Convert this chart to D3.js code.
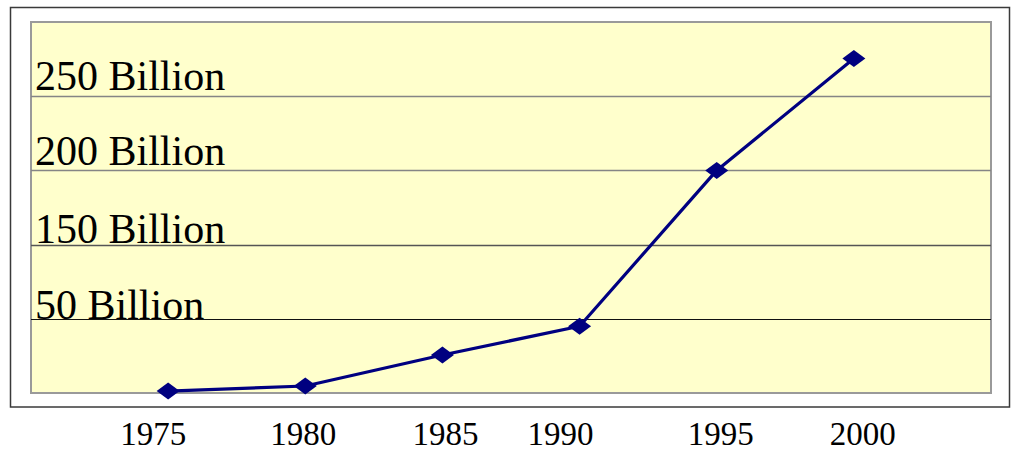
<!DOCTYPE html>
<html>
<head>
<meta charset="utf-8">
<script src="https://cdn.jsdelivr.net/npm/d3@7"></script>
<style>
  html, body { margin: 0; padding: 0; background: #ffffff; }
  svg { display: block; }
</style>
</head>
<body>
<svg id="chart" width="1023" height="475"></svg>
<script>
// ---- data ----
const years = [1975, 1980, 1985, 1990, 1995, 2000];
const values = [1.3, 4.7, 25.6, 45, 150, 225.4];
const yearLabels = ["1975", "1980", "1985", "1990", "1995", "2000"];
const gridValues = [50, 100, 150, 200];
const gridLabels = ["50 Billion", "150 Billion", "200 Billion", "250 Billion"];

// ---- layout ----
const W = 1023, H = 475;
const plot = { left: 31, top: 22, right: 991, bottom: 393 };
const svg = d3.select("#chart");

const x = d3.scaleLinear().domain([1970, 2005]).range([plot.left, plot.right]);
const y = d3.scaleLinear().domain([0, 250]).range([plot.bottom, plot.top]);

// outer frame
svg.append("rect")
  .attr("x", 10.5).attr("y", 7.5).attr("width", 999).attr("height", 399.5)
  .attr("fill", "#ffffff").attr("stroke", "#3a3a3a").attr("stroke-width", 1.5);

// plot area
svg.append("rect")
  .attr("x", plot.left).attr("y", plot.top)
  .attr("width", plot.right - plot.left).attr("height", plot.bottom - plot.top)
  .attr("fill", "#FFFFCC").attr("stroke", "#9a9a9a").attr("stroke-width", 2);

// gridlines
const gridColors = ["#111111", "#555555", "#858585", "#858585"];
svg.append("g").selectAll("line").data(gridValues).join("line")
  .attr("x1", plot.left).attr("x2", plot.right)
  .attr("y1", d => Math.round(y(d)) + 0.5).attr("y2", d => Math.round(y(d)) + 0.5)
  .attr("stroke", (d, i) => gridColors[i]).attr("stroke-width", (d, i) => i === 0 ? 1 : 1.5);

// gridline labels
const labelLift = [0, 2, 5, 6];
svg.append("g").selectAll("text").data(gridValues).join("text")
  .attr("x", 35)
  .attr("y", (d, i) => y(d) - labelLift[i])
  .attr("font-family", "'Liberation Serif', 'Times New Roman', serif")
  .attr("font-size", 42)
  .attr("fill", "#000")
  .text((d, i) => gridLabels[i]);

// line
const line = d3.line().x(d => x(d[0])).y(d => y(d[1]));
const pts = years.map((yr, i) => [yr, values[i]]);
svg.append("path").datum(pts)
  .attr("d", line).attr("fill", "none")
  .attr("stroke", "#000080").attr("stroke-width", 3.2).attr("stroke-linejoin", "round");

// diamond markers
svg.append("g").selectAll("path").data(pts).join("path")
  .attr("transform", d => `translate(${x(d[0])},${y(d[1])})`)
  .attr("d", "M-11.5,0L0,-8.5L11.5,0L0,8.5Z")
  .attr("fill", "#000080");

// x labels
const labelNudge = [-15, -2, 3, -19, 4, 9];
svg.append("g").selectAll("text").data(years).join("text")
  .attr("x", (d, i) => x(d) + labelNudge[i])
  .attr("y", 445)
  .attr("text-anchor", "middle")
  .attr("font-family", "'Liberation Serif', 'Times New Roman', serif")
  .attr("font-size", 33)
  .attr("fill", "#000")
  .text((d, i) => yearLabels[i]);
</script>
</body>
</html>
